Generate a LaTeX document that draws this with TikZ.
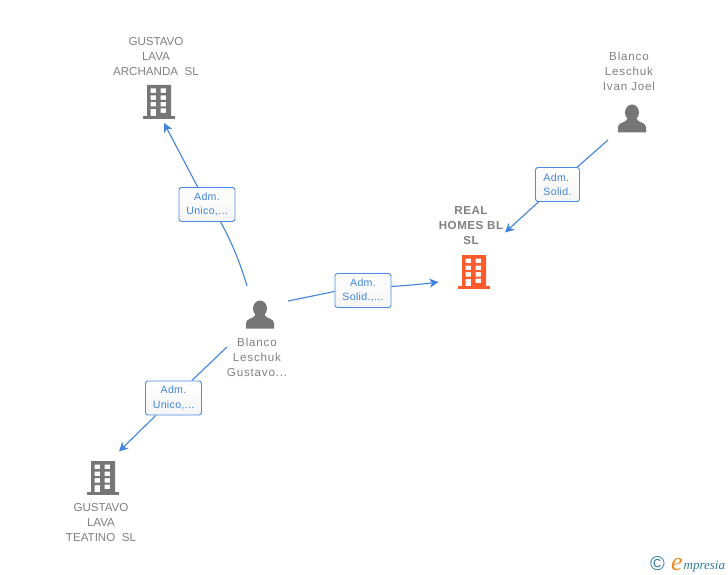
\documentclass[tikz,border=0pt]{standalone}
\usepackage{fontspec}
\setmainfont{Liberation Sans}
\newfontfamily\logofont{Liberation Serif}
\usetikzlibrary{arrows.meta}
\definecolor{edgeblue}{HTML}{3F83DD}
\definecolor{boxblue}{HTML}{4A8CE4}
\definecolor{labelgray}{HTML}{808080}
\definecolor{icongray}{HTML}{767676}
\definecolor{iconorange}{HTML}{FF5A2B}
\definecolor{logoteal}{HTML}{2F7C96}
\definecolor{logoorange}{HTML}{F08A24}
\tikzset{
  x=1pt,y=-1pt,
  entity/.style={font=\fontsize{11.6}{15}\selectfont,text=labelgray,align=center,inner sep=0pt},
  personlabel/.style={entity,font=\fontsize{11.6}{15}\selectfont\addfontfeature{LetterSpace=7}},
  mainlabel/.style={entity,font=\fontsize{11.6}{15}\selectfont\bfseries\addfontfeature{LetterSpace=4.5}},
  rolebox/.style={draw=boxblue,line width=0.9pt,rounded corners=2.5pt,top color=white,bottom color=white!96!black,
    text=edgeblue,font=\fontsize{10.6}{14.5}\selectfont\addfontfeature{LetterSpace=3},align=center,inner sep=0pt,minimum height=34pt},
  link/.style={edgeblue,line width=1.1pt},
  arrowlink/.style={link,-{Stealth[length=9pt,width=9pt,inset=2.5pt]}},
  pics/building/.style={code={
    \fill[#1,even odd rule]
      (-12,-16) rectangle (12,15)
      (-8.5,-12.5) rectangle (-3,-8) (1.5,-12.5) rectangle (7,-8)
      (-8.5,-5.5) rectangle (-3,-1) (1.5,-5.5) rectangle (7,-1)
      (-8.5,1) rectangle (-3,5.5) (1.5,1) rectangle (7,5.5)
      (-8.5,8) rectangle (-3,15) (1.5,7.5) rectangle (7,12);
    \fill[#1] (-16,15) rectangle (16,18);
  }},
  pics/person/.style={code={
    \fill[#1] (0,-6.5) ellipse [x radius=7,y radius=8];
    \fill[#1] (-14,13.5) -- (-14,8) .. controls (-14,3) and (-6,4.5) .. (-4,-1)
      -- (4,-1) .. controls (6,4.5) and (14,3) .. (14,8) -- (14,13.5) -- cycle;
  }}
}
\begin{document}
\begin{tikzpicture}
\useasboundingbox (0,0) rectangle (728,575);
% icons
\pic (bTop) at (159,101) {building=icongray};
\pic (bBot) at (103,477) {building=icongray};
\pic (bMain) at (474,271) {building=iconorange};
\pic (pRight) at (632,119) {person=icongray};
\pic (pMid) at (260,315) {person=icongray};
% entity labels
\node[entity] (lTop) at (156,56.6) {GUSTAVO\\LAVA\\ARCHANDA\ \ SL};
\node[entity] (lBot) at (101,522.6) {GUSTAVO\\LAVA\\TEATINO\ \ SL};
\node[mainlabel] (lMain) at (471,225.6) {REAL\\HOMES BL\\SL};
\node[personlabel] (lRight) at (629,71.6) {Blanco\\Leschuk\\Ivan Joel};
\node[personlabel] (lMid) at (257,357.6) {Blanco\\Leschuk\\Gustavo...};
% role boxes
\node[rolebox,minimum width=56pt] (b1) at (207,204.5) {Adm.\\Unico,...};
\node[rolebox,minimum width=56pt] (b2) at (363,290.5) {Adm.\\Solid.,...};
\node[rolebox,minimum width=44pt,align=left] (b3) at (557.5,184.5) {Adm.\\Solid.};
\node[rolebox,minimum width=56pt] (b4) at (173.5,398) {Adm.\\Unico,...};
% connector ends
\coordinate (s1) at (247,286);
\coordinate (t1) at (164,123);
\coordinate (s2) at (288,301);
\coordinate (t2) at (438.5,282);
\coordinate (s3) at (608,140);
\coordinate (t3) at (505,232.5);
\coordinate (s4) at (227,347);
\coordinate (t4) at (119,451.5);
% connectors
\draw[link] (s1) .. controls (240,262) and (231,241) .. (b1.-52);
\draw[arrowlink] (b1.118) -- (t1);
\draw[link] (s2) -- (b2.182);
\draw[arrowlink] (b2.8) .. controls (407,285.5) and (423,284) .. (t2);
\draw[link] (s3) -- (b3);
\draw[arrowlink] (b3) -- (t3);
\draw[link] (s4) -- (b4);
\draw[arrowlink] (b4) -- (t4);
% logo
\node[inner sep=0pt,text=logoteal,font=\fontsize{20}{20}\selectfont] (logoC) at (657.5,564) {©};
\node[inner sep=0pt,text=logoorange,anchor=base,font=\fontsize{26}{26}\selectfont\logofont\itshape] (logoE) at (677,570) {e};
\node[inner sep=0pt,text=logoteal,anchor=base west,font=\fontsize{13}{13}\selectfont\logofont\itshape] (logoT) at (683.5,569) {mpresia};
\end{tikzpicture}
\end{document}
